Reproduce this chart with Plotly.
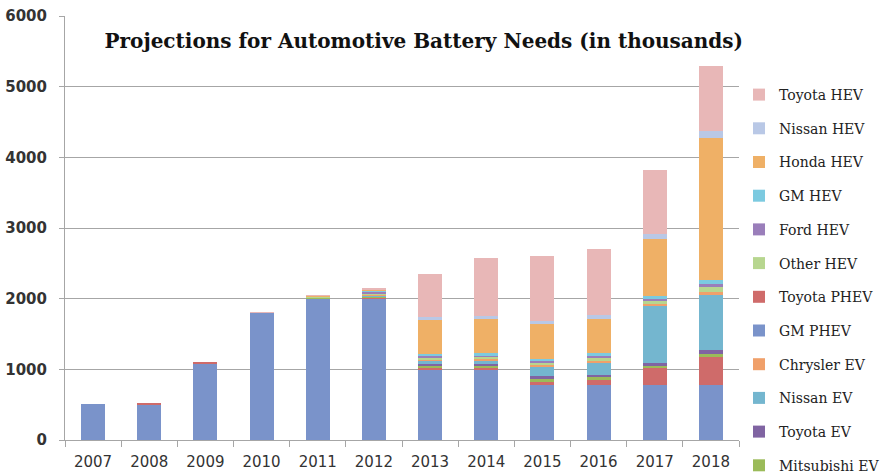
import plotly.graph_objects as go

years = ["2007", "2008", "2009", "2010", "2011", "2012",
         "2013", "2014", "2015", "2016", "2017", "2018"]

# series (stacking order bottom -> top)
gm_phev = [510, 505, 1085, 1800, 2000, 2000, 990, 990, 780, 780, 780, 780]
toyota_phev = [0, 12, 25, 0, 5, 10, 30, 30, 45, 70, 240, 400]
mitsubishi_ev = [0, 0, 0, 0, 10, 15, 30, 30, 45, 45, 30, 40]
toyota_ev = [0, 0, 0, 0, 0, 10, 20, 25, 30, 30, 40, 50]
nissan_ev = [0, 0, 0, 0, 0, 15, 50, 55, 130, 165, 800, 780]
chrysler_ev = [0, 0, 0, 0, 0, 10, 20, 20, 30, 30, 30, 50]
other_hev = [0, 0, 0, 0, 10, 20, 25, 25, 40, 40, 50, 60]
ford_hev = [0, 0, 0, 0, 0, 15, 25, 25, 20, 30, 30, 50]
gm_hev = [0, 0, 0, 0, 0, 15, 25, 25, 25, 40, 40, 50]
honda_hev = [0, 0, 0, 0, 15, 20, 480, 490, 495, 486, 800, 2020]
nissan_hev = [0, 0, 0, 0, 0, 5, 40, 40, 47, 47, 75, 95]
toyota_hev = [0, 0, 0, 10, 10, 15, 615, 816, 910, 940, 905, 920]

# (name, values, color, legend rank)
series = [
    ("GM PHEV", gm_phev, "#7A93CA", 8),
    ("Toyota PHEV", toyota_phev, "#CF6B6A", 7),
    ("Mitsubishi EV", mitsubishi_ev, "#9BBB59", 12),
    ("Toyota EV", toyota_ev, "#8064A2", 11),
    ("Nissan EV", nissan_ev, "#74B6CF", 10),
    ("Chrysler EV", chrysler_ev, "#F0A06A", 9),
    ("Other HEV", other_hev, "#B7D68F", 6),
    ("Ford HEV", ford_hev, "#9A7EBA", 5),
    ("GM HEV", gm_hev, "#7CCAE0", 4),
    ("Honda HEV", honda_hev, "#EFB066", 3),
    ("Nissan HEV", nissan_hev, "#B9C8E6", 2),
    ("Toyota HEV", toyota_hev, "#E8B7B7", 1),
]

fig = go.Figure()
for name, vals, color, rank in series:
    fig.add_trace(go.Bar(
        x=years, y=vals, name=name,
        marker=dict(color=color, line=dict(width=0)),
        legendrank=rank, legendgroup=name,
    ))

grid = "#A6A6A6"
fig.update_layout(
    barmode="stack",
    bargap=0.57,
    width=881, height=475,
    margin=dict(l=65, r=119, t=16, b=35),
    paper_bgcolor="white",
    plot_bgcolor="white",
    title=dict(
        text="<b>Projections for Automotive Battery Needs (in thousands)</b>",
        font=dict(family="DejaVu Serif", size=20, color="#111111"),
        x=0.481, xanchor="center", xref="container",
        y=1 - 41 / 475, yanchor="middle", yref="container",
    ),
    legend=dict(
        xref="container", yref="container",
        x=739 / 881, xanchor="left", y=1 - 79 / 475, yanchor="top",
        traceorder="grouped", tracegroupgap=12.5,
        font=dict(family="DejaVu Serif", size=14, color="#222222"),
        bgcolor="rgba(0,0,0,0)",
    ),
    xaxis=dict(
        type="category", automargin=False,
        showline=True, linecolor=grid, linewidth=1,
        ticks="outside", tickson="boundaries", ticklen=6, tickcolor=grid,
        tickfont=dict(family="DejaVu Sans", size=15, color="#333333"),
        ticklabelstandoff=8,
        showgrid=False,
    ),
    yaxis=dict(
        range=[0, 6000], dtick=1000, automargin=False,
        showline=True, linecolor=grid, linewidth=1,
        ticks="outside", ticklen=5, tickcolor=grid,
        tickfont=dict(family="DejaVu Sans", size=15, color="#333333",
                      weight="bold"),
        ticklabelstandoff=9,
        showgrid=True, gridcolor=grid, gridwidth=1,
        zeroline=False,
    ),
)
try:
    fig.update_layout(legend_maxheight=480)
except Exception:
    pass

fig.write_html("out.html")
